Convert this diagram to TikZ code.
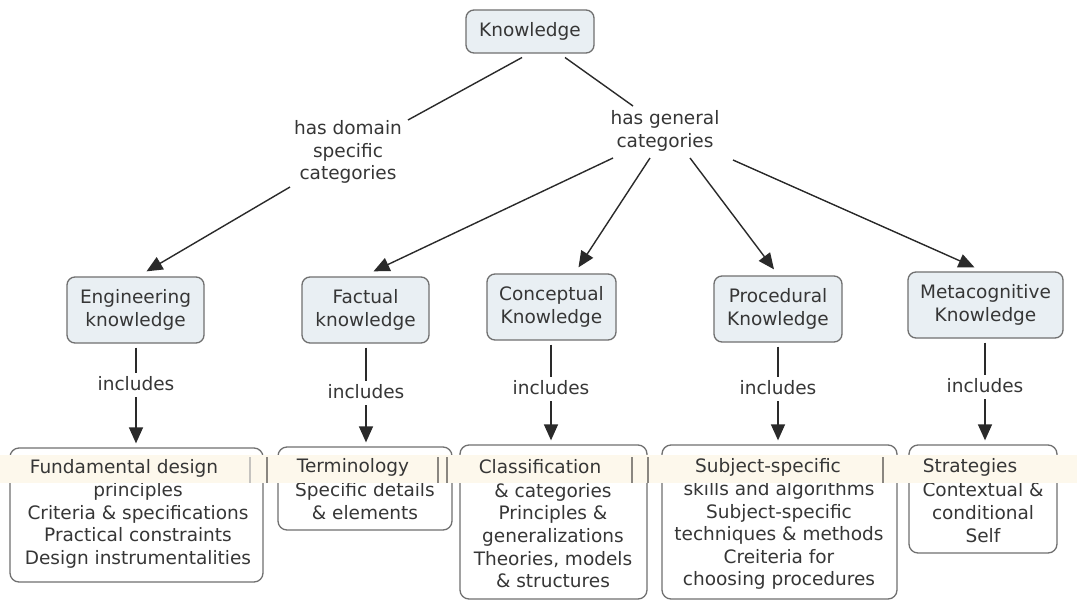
\documentclass[tikz,border=0pt]{standalone}
\usepackage{fontspec}
\setmainfont{DejaVu Sans}
\usetikzlibrary{arrows.meta,calc}
\definecolor{txt}{HTML}{363636}
\definecolor{bord}{HTML}{707070}
\definecolor{midfill}{HTML}{E9EFF3}
\definecolor{bandc}{HTML}{FDF8EC}
\definecolor{barc}{HTML}{8A8680}
\definecolor{linec}{HTML}{2A2A2A}
\begin{document}
\begin{tikzpicture}[x=1pt,y=-1pt,
  every node/.style={font=\fontsize{18.5}{22.6}\selectfont, text=txt, align=center, inner sep=0pt},
  midbox/.style={draw=bord, fill=midfill, rounded corners=8pt, line width=1.3pt},
  lowbox/.style={draw=bord, fill=white, rounded corners=9pt, line width=1.3pt},
  conn/.style={draw=linec, line width=1.4pt},
  arr/.style={conn, -{Triangle[length=16pt,width=14pt]}},
  bar/.style={draw=barc, line width=1.2pt}
]
\useasboundingbox[fill=white] (0,0) rectangle (1077,603);

% top
\node[midbox, minimum width=128pt, minimum height=43pt] (k) at (530,31.5) {Knowledge};
\node (dom) at (348,152) {has domain\\specific\\categories};
\node (gen) at (665,131) {has general\\categories};

% middle level
\node[midbox, minimum width=137pt, minimum height=66pt] (eng) at (135.5,310) {Engineering\\knowledge};
\node[midbox, minimum width=127pt, minimum height=66pt] (fac) at (365.5,310) {Factual\\knowledge};
\node[midbox, minimum width=129pt, minimum height=66pt] (con) at (551.5,307) {Conceptual\\Knowledge};
\node[midbox, minimum width=128pt, minimum height=66pt] (pro) at (778,309) {Procedural\\Knowledge};
\node[midbox, minimum width=155pt, minimum height=66pt] (met) at (985.5,305) {Metacognitive\\Knowledge};

% includes labels
\node (inc1) at (136,384) {includes};
\node (inc2) at (366,392) {includes};
\node (inc3) at (551,388) {includes};
\node (inc4) at (778,388) {includes};
\node (inc5) at (985,386) {includes};

% bottom boxes
\node[lowbox, minimum width=253pt, minimum height=134pt] (fd) at (136.5,515) {};
\node[lowbox, minimum width=174pt, minimum height=83pt] (term) at (365,488.5) {};
\node[lowbox, minimum width=187pt, minimum height=154pt] (cls) at (553.5,522) {};
\node[lowbox, minimum width=235pt, minimum height=154pt] (subj) at (779.5,522) {};
\node[lowbox, minimum width=148pt, minimum height=108pt] (strat) at (983,499) {};

\node (fdt) at (138,525.5) {principles\\Criteria \& specifications\\Practical constraints\\Design instrumentalities};
\node (termt) at (365,501) {Specific details\\\& elements};
\node (clst) at (553,535.5) {\& categories\\Principles \&\\generalizations\\Theories, models\\\& structures};
\node (subjt) at (779,535.5) {skills and algorithms\\Subject-specific\\techniques \& methods\\Creiteria for\\choosing procedures};
\node (stratt) at (983,512.5) {Contextual \&\\conditional\\Self};

% connectors
\draw[conn] ($(k.center)+(-8,26)$) -- ($(dom.center)+(60,-32)$);
\draw[conn] ($(k.center)+(35,26)$) -- ($(gen.center)+(-32,-25)$);
\draw[arr] ($(dom.center)+(-58,35)$) -- ($(eng.north)+(11,-5)$);
\draw[arr] ($(gen.center)+(-52,27)$) -- ($(fac.north)+(8,-5)$);
\draw[arr] ($(gen.center)+(-15,27)$) -- ($(con.north)+(27,-6)$);
\draw[arr] ($(gen.center)+(25,27)$) -- ($(pro.north)+(-4,-6)$);
\draw[arr] ($(gen.center)+(68,29)$) -- ($(met.north)+(-11,-4)$);

\foreach \m/\i/\b in {eng/inc1/fd, fac/inc2/term, con/inc3/cls, pro/inc4/subj, met/inc5/strat}{
  \draw[conn] ($(\m.south -| \i.center)+(0,4)$) -- ($(\i.center)+(0,-11)$);
  \draw[arr] ($(\i.center)+(0,13)$) -- ($(\i.center |- \b.north)+(0,-4)$);
}

% band across the lower boxes
\fill[bandc] (0,455) rectangle (1077,483);
\draw[bar, draw=barc!50] (250,457) -- (250,483);
\draw[bar] (267,457) -- (267,483);
\draw[bar] (438,457) -- (438,483);
\draw[bar] (447,457) -- (447,483);
\draw[bar] (632,457) -- (632,483);
\draw[bar] (648,457) -- (648,483);
\draw[bar] (883,457) -- (883,483);

\node (fdh) at (124,468) {Fundamental design};
\node (termh) at (353,467) {Terminology};
\node (clsh) at (540,467) {Classification};
\node (subjh) at (768,467) {Subject-specific};
\node (strath) at (970,467) {Strategies};
\end{tikzpicture}
\end{document}
